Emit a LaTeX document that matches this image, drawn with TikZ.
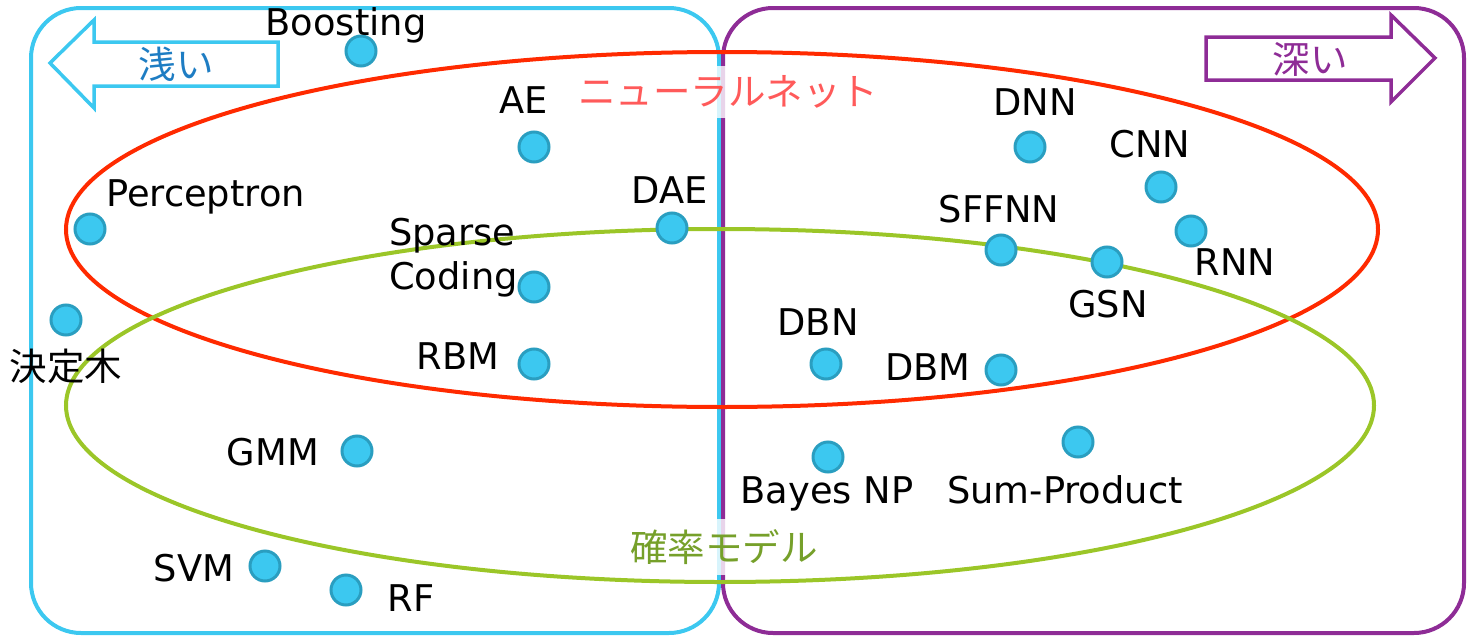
\documentclass[tikz,border=0pt]{standalone}
\usepackage{fontspec}
\setmainfont{DejaVu Sans}
\newfontfamily\jp{Noto Sans CJK JP}
\definecolor{shallowblue}{HTML}{3CC8F0}
\definecolor{shallowtext}{HTML}{1E7DC3}
\definecolor{deeppurple}{HTML}{8E2C96}
\definecolor{nnred}{HTML}{FF2A00}
\definecolor{nntext}{HTML}{FF5A5A}
\definecolor{pmgreen}{HTML}{9BC628}
\definecolor{pmtext}{HTML}{76A02A}
\definecolor{dotfill}{HTML}{3CC8F0}
\definecolor{dotedge}{HTML}{2A9EC0}
\begin{document}
\begin{tikzpicture}[x=1pt,y=-1pt,
  dot/.style={circle,fill=dotfill,draw=dotedge,line width=3pt,minimum size=30pt,inner sep=0pt},
  lbl/.style={inner sep=0pt,font=\fontsize{36.8}{44}\selectfont},
  jplbl/.style={inner sep=0pt,font=\jp\fontsize{37.5}{44}\selectfont},
  box/.style={line width=4pt,rounded corners=50pt},
  ell/.style={line width=4pt},
  arr/.style={line width=3.5pt,line join=miter}
]
\useasboundingbox (0,0) rectangle (1473,640);
% boxes
\draw[box,shallowblue] (31,8) rectangle (719,633);
\draw[box,deeppurple] (723,8) rectangle (1464,633);
% direction arrows
\draw[arr,shallowblue] (50,63) -- (94,20) -- (94,42) -- (278,42) -- (278,86) -- (94,86) -- (94,108) -- cycle;
\node[jplbl,text=shallowtext] (shallow) at (176,64) {浅い};
\draw[arr,deeppurple] (1435,58) -- (1391,15) -- (1391,37) -- (1206,37) -- (1206,80) -- (1391,80) -- (1391,102) -- cycle;
\node[jplbl,text=deeppurple] (deep) at (1310,59) {深い};
% ellipses
\draw[ell,nnred] (722,229.5) ellipse [x radius=656, y radius=177.5];
\draw[ell,pmgreen] (720,405.5) ellipse [x radius=654, y radius=176.5];
\node[jplbl,text=nntext,fill=white,fill opacity=0.8,text opacity=1,inner sep=10pt] (nn) at (728,92) {ニューラルネット};
\node[jplbl,text=pmtext,fill=white,fill opacity=0.8,text opacity=1,inner sep=10pt] (pm) at (724,547) {確率モデル};
% dots
\node[dot] (boost) at (361,51) {};
\node[dot] (ae) at (534,147) {};
\node[dot] (perc) at (90,229) {};
\node[dot] (dae) at (672,228) {};
\node[dot] (sparse) at (534,287) {};
\node[dot] (tree) at (66,320) {};
\node[dot] (rbm) at (534,364) {};
\node[dot] (gmm) at (357,451) {};
\node[dot] (svm) at (265,566) {};
\node[dot] (rf) at (346,590) {};
\node[dot] (dnn) at (1030,147) {};
\node[dot] (cnn) at (1161,187) {};
\node[dot] (sffnn) at (1001,250) {};
\node[dot] (rnn) at (1191,231) {};
\node[dot] (gsn) at (1107,262) {};
\node[dot] (dbn) at (826,364) {};
\node[dot] (dbm) at (1001,370) {};
\node[dot] (sump) at (1078,442) {};
\node[dot] (bayes) at (828,457) {};
% labels
\node[lbl] (tboost) at (346,25) {Boosting};
\node[lbl] (tae) at (524,100) {AE};
\node[lbl,anchor=west] (tperc) at (106,197) {Perceptron};
\node[lbl] (tdae) at (670,190) {DAE};
\node[lbl,anchor=west,align=left] (tsparse) at (389,258) {Sparse\\Coding};
\node[jplbl] (ttree) at (66,366) {決定木};
\node[lbl] (trbm) at (458,356) {RBM};
\node[lbl] (tgmm) at (273,452) {GMM};
\node[lbl] (tsvm) at (194,568) {SVM};
\node[lbl] (trf) at (411,598) {RF};
\node[lbl] (tdnn) at (1035,102) {DNN};
\node[lbl] (tcnn) at (1150,144) {CNN};
\node[lbl] (tsffnn) at (999,209) {SFFNN};
\node[lbl] (trnn) at (1235,262) {RNN};
\node[lbl] (tgsn) at (1108,304) {GSN};
\node[lbl] (tdbn) at (818,322) {DBN};
\node[lbl] (tdbm) at (928,367) {DBM};
\node[lbl] (tsump) at (1065,490) {Sum-Product};
\node[lbl] (tbayes) at (827,494) {Bayes NP};
\end{tikzpicture}
\end{document}
